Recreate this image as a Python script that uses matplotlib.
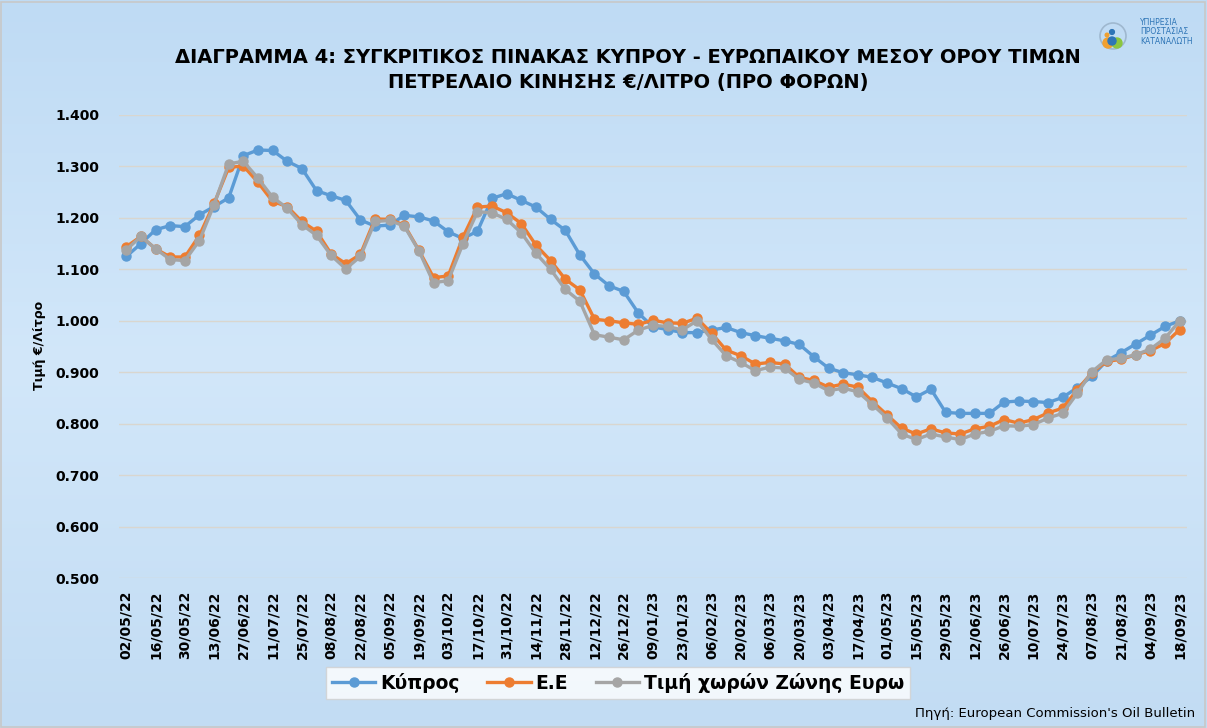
import matplotlib
matplotlib.use("Agg")
import matplotlib.pyplot as plt
import numpy as np
from matplotlib.patches import Circle, Rectangle
from matplotlib.lines import Line2D

# ---- data ----
tick_labels = ["02/05/22", "16/05/22", "30/05/22", "13/06/22", "27/06/22", "11/07/22",
               "25/07/22", "08/08/22", "22/08/22", "05/09/22", "19/09/22", "03/10/22",
               "17/10/22", "31/10/22", "14/11/22", "28/11/22", "12/12/22", "26/12/22",
               "09/01/23", "23/01/23", "06/02/23", "20/02/23", "06/03/23", "20/03/23",
               "03/04/23", "17/04/23", "01/05/23", "15/05/23", "29/05/23", "12/06/23",
               "26/06/23", "10/07/23", "24/07/23", "07/08/23", "21/08/23", "04/09/23",
               "18/09/23"]

cyprus = [1.125, 1.150, 1.177, 1.185, 1.183, 1.206, 1.222, 1.239, 1.321, 1.332,
          1.331, 1.310, 1.296, 1.253, 1.243, 1.234, 1.196, 1.184, 1.186, 1.205,
          1.202, 1.194, 1.173, 1.160, 1.174, 1.238, 1.247, 1.234, 1.221, 1.197,
          1.176, 1.128, 1.091, 1.068, 1.057, 1.015, 0.988, 0.983, 0.977, 0.977,
          0.982, 0.987, 0.977, 0.971, 0.966, 0.961, 0.954, 0.930, 0.908, 0.899,
          0.895, 0.890, 0.879, 0.868, 0.852, 0.867, 0.822, 0.820, 0.820, 0.820,
          0.842, 0.844, 0.843, 0.841, 0.851, 0.870, 0.892, 0.922, 0.938, 0.955,
          0.972, 0.989, 1.000]

eu = [1.144, 1.164, 1.140, 1.124, 1.124, 1.166, 1.228, 1.298, 1.301, 1.269,
      1.232, 1.222, 1.193, 1.174, 1.130, 1.111, 1.129, 1.198, 1.197, 1.186,
      1.137, 1.084, 1.087, 1.162, 1.221, 1.223, 1.210, 1.189, 1.147, 1.117,
      1.081, 1.060, 1.003, 1.000, 0.996, 0.993, 1.001, 0.996, 0.995, 1.005,
      0.976, 0.943, 0.932, 0.916, 0.919, 0.916, 0.890, 0.884, 0.871, 0.877,
      0.871, 0.843, 0.817, 0.791, 0.780, 0.790, 0.782, 0.780, 0.790, 0.795,
      0.808, 0.801, 0.808, 0.821, 0.830, 0.866, 0.899, 0.921, 0.925, 0.934,
      0.942, 0.956, 0.983]

eurozone = [1.138, 1.164, 1.140, 1.119, 1.117, 1.156, 1.226, 1.305, 1.310, 1.277,
            1.240, 1.219, 1.187, 1.166, 1.127, 1.101, 1.125, 1.193, 1.195, 1.184,
            1.136, 1.074, 1.078, 1.149, 1.212, 1.210, 1.197, 1.171, 1.131, 1.100,
            1.061, 1.038, 0.973, 0.968, 0.963, 0.982, 0.991, 0.989, 0.982, 1.000,
            0.964, 0.932, 0.919, 0.903, 0.910, 0.908, 0.886, 0.879, 0.864, 0.869,
            0.862, 0.837, 0.811, 0.780, 0.769, 0.780, 0.774, 0.769, 0.780, 0.785,
            0.796, 0.795, 0.798, 0.811, 0.820, 0.859, 0.901, 0.924, 0.927, 0.934,
            0.945, 0.966, 1.000]

series_names = ["Κύπρος", "Ε.Ε", "Τιμή χωρών Ζώνης Ευρω"]
series_colors = ["#5B9BD5", "#ED7D31", "#A5A5A5"]
y_ticks = [0.5, 0.6, 0.7, 0.8, 0.9, 1.0, 1.1, 1.2, 1.3, 1.4]

title = ("ΔΙΑΓΡΑΜΜΑ 4: ΣΥΓΚΡΙΤΙΚΟΣ ΠΙΝΑΚΑΣ ΚΥΠΡΟΥ - ΕΥΡΩΠΑΙΚΟΥ ΜΕΣΟΥ ΟΡΟΥ ΤΙΜΩΝ\n"
         "ΠΕΤΡΕΛΑΙΟ ΚΙΝΗΣΗΣ €/ΛΙΤΡΟ (ΠΡΟ ΦΟΡΩΝ)")

# ---- figure ----
W, H = 1207, 728
fig = plt.figure(figsize=(W / 100, H / 100), dpi=100)

# background gradient
bg = fig.add_axes([0, 0, 1, 1], zorder=-10)
grad_top = np.array([0xBF, 0xDB, 0xF4]) / 255
grad_mid = np.array([0xD2, 0xE7, 0xFA]) / 255
grad_bot = np.array([0xC2, 0xDC, 0xF3]) / 255
t = np.linspace(0, 1, 200)[:, None]
col = np.where(t < 0.5, grad_top + (grad_mid - grad_top) * (t / 0.5),
               grad_mid + (grad_bot - grad_mid) * ((t - 0.5) / 0.5))
img = np.repeat(col[:, None, :], 2, axis=1)
bg.imshow(img, aspect="auto", extent=[0, 1, 0, 1], origin="upper")
bg.add_patch(Rectangle((0.001, 0.002), 0.997, 0.995, fill=False, ec="#C8C8C8", lw=1.2,
                       transform=bg.transAxes))
bg.set_xlim(0, 1)
bg.set_ylim(0, 1)
bg.axis("off")

ax = fig.add_axes([119 / W, 1 - 578 / H, 1068 / W, 463 / H])
ax.set_facecolor("none")
x = np.arange(len(cyprus))
for vals, name, c in zip([cyprus, eu, eurozone], series_names, series_colors):
    ax.plot(x, vals, color=c, lw=2.4, marker="o", ms=6.5, mec=c, mfc=c,
            label=name, solid_capstyle="round", solid_joinstyle="round")

ax.set_xlim(-0.5, len(cyprus) - 0.5)
ax.set_ylim(0.5, 1.4)
ax.set_yticks(y_ticks)
ax.set_yticklabels([f"{v:.3f}" for v in y_ticks], fontsize=10, fontweight="bold",
                   family="DejaVu Sans")
ax.set_xticks(x[::2])
ax.set_xticklabels(tick_labels, rotation=90, fontsize=10, fontweight="bold",
                   family="DejaVu Sans")
ax.tick_params(axis="both", length=0)
ax.tick_params(axis="y", pad=14)
ax.tick_params(axis="x", pad=9)
ax.grid(axis="y", color="#D9D6CF", lw=1.0)
ax.set_axisbelow(True)
for s in ax.spines.values():
    s.set_visible(False)

fig.text(40 / W, 1 - 345 / H, "Τιμή €/Λίτρο", rotation=90, fontsize=9,
         fontweight="bold", ha="center", va="center")

fig.text(628 / W, 1 - 70 / H, title, ha="center", va="center", fontsize=14,
         fontweight="bold", linespacing=1.45, family="DejaVu Sans")

# legend
handles = [Line2D([0], [0], color=c, lw=2.4, marker="o", ms=6.5) for c in series_colors]
leg = fig.legend(handles, series_names, loc="center", bbox_to_anchor=(618 / W, 1 - 683 / H),
                 ncol=3, frameon=True, fancybox=False, edgecolor="#D0D0D0",
                 prop={"weight": "bold", "size": 13.5}, handlelength=2.3,
                 handletextpad=0.25, columnspacing=1.5, borderpad=0.3)
leg.get_frame().set_facecolor("white")
leg.get_frame().set_linewidth(1.0)

fig.text(1195 / W, 1 - 713 / H, "Πηγή: European Commission's Oil Bulletin",
         ha="right", va="center", fontsize=9.5)

# logo
lg = fig.add_axes([1098 / W, 1 - 52 / H, 30 / W, 34 / H])
lg.set_xlim(0, 30)
lg.set_ylim(0, 34)
lg.axis("off")
lg.add_patch(Circle((15, 16), 13, fill=False, ec="#9FB8CF", lw=1.2))
lg.add_patch(Circle((10, 9), 5, color="#F0A030"))
lg.add_patch(Circle((19, 9), 5, color="#8CC63F"))
lg.add_patch(Circle((14, 11), 4, color="#2E75B6"))
lg.add_patch(Circle((14, 20), 2.4, color="#2E75B6"))
lg.add_patch(Circle((9, 17), 1.8, color="#F0A030"))
fig.text(1140 / W, 1 - 32 / H, "ΥΠΗΡΕΣΙΑ\nΠΡΟΣΤΑΣΙΑΣ\nΚΑΤΑΝΑΛΩΤΗ", ha="left",
         va="center", fontsize=5.5, color="#2E75B6", linespacing=1.1)

fig.savefig("out.png", dpi=100)
